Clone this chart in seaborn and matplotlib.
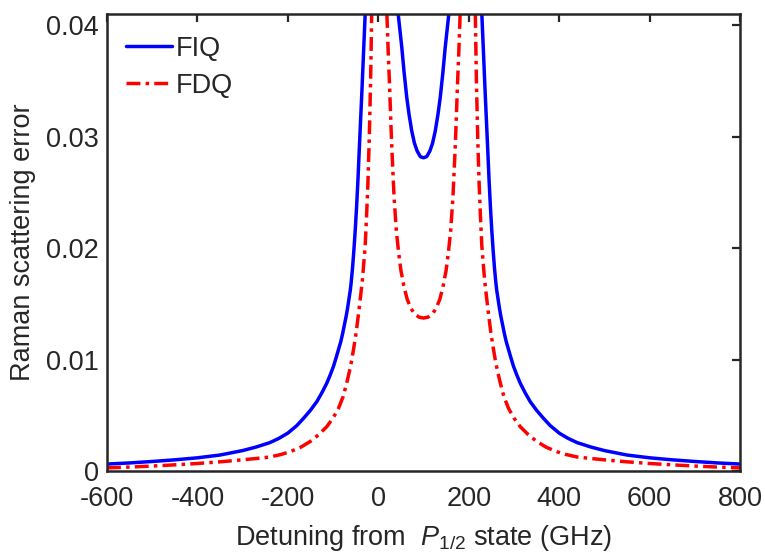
import numpy as np
import pandas as pd
import matplotlib
matplotlib.use('Agg')
import matplotlib.pyplot as plt
import seaborn as sns

# FIQ (blue, solid), three branches between the poles
fiq_x_left = [-600, -550, -500, -450, -400, -350, -300, -270, -240, -220, -200, -180,
              -165, -150, -136, -125, -114, -106, -99, -93, -88, -83, -79, -75, -71,
              -68, -65, -62, -60, -57, -54, -51, -48, -45, -42, -39, -36, -33, -31, -29]
fiq_y_left = [0.00062, 0.00072, 0.00085, 0.00100, 0.00118, 0.00143, 0.00183, 0.00215,
              0.00254, 0.00292, 0.00340, 0.00408, 0.00474, 0.00545, 0.00622, 0.00700,
              0.00787, 0.00865, 0.00940, 0.0102, 0.0109, 0.0116, 0.0123, 0.0131, 0.0139,
              0.0146, 0.0154, 0.0162, 0.0169, 0.0182, 0.0198, 0.0216, 0.0237, 0.0261,
              0.0289, 0.0316, 0.0343, 0.0372, 0.0391, 0.0410]
fiq_x_mid = [44, 48, 52, 57, 63, 68, 74, 80, 86, 93, 100, 107, 114, 120, 126, 132, 137,
             143, 148, 152, 156]
fiq_y_mid = [0.0410, 0.0395, 0.0380, 0.0358, 0.0335, 0.0320, 0.0305, 0.0294, 0.0287,
             0.0282, 0.0281, 0.0282, 0.0287, 0.0294, 0.0305, 0.0320, 0.0335, 0.0358,
             0.0380, 0.0395, 0.0410]
fiq_x_right = [229, 231, 233, 236, 239, 242, 245, 248, 251, 254, 257, 260, 262, 265, 268,
               271, 275, 279, 283, 288, 293, 299, 306, 314, 325, 336, 350, 365, 380, 400,
               420, 440, 470, 500, 550, 600, 650, 700, 750, 800]
fiq_y_right = [0.0410, 0.0391, 0.0372, 0.0343, 0.0316, 0.0289, 0.0261, 0.0237, 0.0216,
               0.0198, 0.0182, 0.0169, 0.0162, 0.0154, 0.0146, 0.0139, 0.0131, 0.0123,
               0.0116, 0.0109, 0.0102, 0.00940, 0.00865, 0.00787, 0.00700, 0.00622,
               0.00545, 0.00474, 0.00408, 0.00340, 0.00292, 0.00254, 0.00215, 0.00183,
               0.00143, 0.00118, 0.00100, 0.00085, 0.00072, 0.00062]

# FDQ (red, dash-dot)
fdq_x_left = [-600, -550, -500, -450, -400, -350, -300, -270, -240, -215, -195, -172,
              -151, -132, -114, -100, -88, -78, -70, -64, -59, -54, -49, -45, -42, -38,
              -35, -32, -29, -26, -23, -20, -17, -14.6]
fdq_y_left = [0.00028, 0.00035, 0.00044, 0.00055, 0.00067, 0.00082, 0.00100, 0.00112,
              0.00125, 0.00148, 0.00173, 0.00212, 0.00263, 0.00325, 0.00397, 0.00475,
              0.00562, 0.00665, 0.00787, 0.0089, 0.0099, 0.0111, 0.0124, 0.0137, 0.0147,
              0.0161, 0.0172, 0.0187, 0.0202, 0.0228, 0.0258, 0.0298, 0.0350, 0.0410]
fdq_x_mid = [19, 22, 25, 28, 31, 35, 40, 45, 50, 57, 64, 72, 80, 90, 100, 110, 120, 128,
             136, 143, 150, 155, 160, 165, 169, 172, 175, 178, 181]
fdq_y_mid = [0.0410, 0.0375, 0.0345, 0.0310, 0.0280, 0.0245, 0.0215, 0.0196, 0.0180,
             0.0165, 0.0154, 0.0146, 0.0141, 0.0138, 0.01372, 0.0138, 0.0141, 0.0146,
             0.0154, 0.0165, 0.0180, 0.0196, 0.0215, 0.0245, 0.0280, 0.0310, 0.0345,
             0.0375, 0.0410]
fdq_x_right = [214.6, 217, 220, 223, 226, 229, 232, 235, 238, 242, 245, 249, 254, 259,
               264, 270, 278, 288, 300, 314, 332, 351, 372, 395, 415, 440, 470, 500, 550,
               600, 650, 700, 750, 800]
fdq_y_right = [0.0410, 0.0350, 0.0298, 0.0258, 0.0228, 0.0202, 0.0187, 0.0172, 0.0161,
               0.0147, 0.0137, 0.0124, 0.0111, 0.0099, 0.0089, 0.00787, 0.00665, 0.00562,
               0.00475, 0.00397, 0.00325, 0.00263, 0.00212, 0.00173, 0.00148, 0.00125,
               0.00112, 0.00100, 0.00082, 0.00067, 0.00055, 0.00044, 0.00035, 0.00028]

x_ticks = [-600, -400, -200, 0, 200, 400, 600, 800]
y_ticks = [0, 0.01, 0.02, 0.03, 0.04]
y_tick_labels = ['0', '0.01', '0.02', '0.03', '0.04']

# build one long table, one "branch" per piece of curve
rows = []
for name, parts in [('FIQ', [(fiq_x_left, fiq_y_left), (fiq_x_mid, fiq_y_mid), (fiq_x_right, fiq_y_right)]),
                    ('FDQ', [(fdq_x_left, fdq_y_left), (fdq_x_mid, fdq_y_mid), (fdq_x_right, fdq_y_right)])]:
    for i, (xs, ys) in enumerate(parts):
        for xv, yv in zip(xs, ys):
            rows.append({'curve': name, 'branch': f'{name}{i}', 'x': xv, 'y': yv})
df = pd.DataFrame(rows)

sns.set_style('white')
plt.rcParams['font.family'] = ['Liberation Sans', 'DejaVu Sans']
plt.rcParams['mathtext.fontset'] = 'custom'
plt.rcParams['mathtext.it'] = 'Liberation Sans:italic'
plt.rcParams['mathtext.rm'] = 'Liberation Sans'

fig = plt.figure(figsize=(7.65, 5.6), dpi=100)
ax = fig.add_axes([0.1399, 0.159, 0.8274, 0.816])

ink = '#262626'
fs = 19.5
sns.lineplot(data=df, x='x', y='y', hue='curve', style='curve', units='branch',
             estimator=None, sort=False, ax=ax,
             palette={'FIQ': '#0000FF', 'FDQ': '#FF0000'},
             dashes={'FIQ': '', 'FDQ': (4, 1.5, 1, 1.5)}, linewidth=2.5)

ax.set_xlim(-600, 800)
ax.set_ylim(0, 0.041)
ax.set_xticks(x_ticks)
ax.set_xticklabels([str(t) for t in x_ticks])
ax.set_yticks(y_ticks)
ax.set_yticklabels(y_tick_labels)
ax.tick_params(direction='in', length=6, width=1.6, top=True, right=True,
               labelsize=fs, colors=ink)
ax.tick_params(axis='x', pad=11)
ax.tick_params(axis='y', pad=6)
for s in ax.spines.values():
    s.set_color(ink)
    s.set_linewidth(1.8)

ax.set_xlabel(r'Detuning from  $P_{1/2}$ state (GHz)', fontsize=fs, color=ink, labelpad=8)
ax.set_ylabel('Raman scattering error', fontsize=fs, color=ink, labelpad=7)

leg = ax.get_legend()
handles = leg.legend_handles
labels = [t.get_text() for t in leg.get_texts()]
ax.legend(handles, labels, loc='upper left', bbox_to_anchor=(0.03, 0.952),
          frameon=False, fontsize=fs, handlelength=1.7, handletextpad=0.12,
          labelspacing=0.4, borderpad=0, borderaxespad=0)

fig.savefig('out.png', dpi=100)
